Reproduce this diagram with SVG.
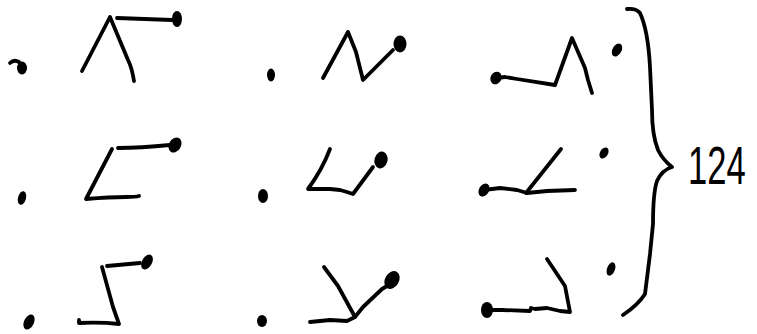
<svg xmlns="http://www.w3.org/2000/svg" width="757" height="334" viewBox="0 0 757 334">
<style>
.s{fill:none;stroke:#000;stroke-width:3.8;stroke-linecap:round;stroke-linejoin:round}
.d{fill:#000}
.t{font-family:"Liberation Sans",Arial,sans-serif;font-size:54px;fill:#000}
</style>
<rect width="757" height="334" fill="#fff"/>
<!-- row 1 -->
<g id="r1c1">
<path class="s" d="M10 63 Q14 59 19 62"/>
<ellipse class="d" cx="22" cy="68" rx="5" ry="6.5"/>
<path class="s" d="M82 71 L110 17 L128 60 Q132 68 134 81"/>
<path class="s" d="M117 18 L172 20"/>
<ellipse class="d" cx="177" cy="19" rx="5" ry="8"/>
</g>
<g id="r1c2">
<ellipse class="d" cx="271" cy="75" rx="4" ry="6.5"/>
<path class="s" d="M323 78 L348 32 L356 52 L363 80 L393 50"/>
<ellipse class="d" cx="400" cy="44" rx="6.5" ry="8.5"/>
</g>
<g id="r1c3">
<ellipse class="d" cx="496" cy="78" rx="5.5" ry="6.5" transform="rotate(25 496 78)"/>
<path class="s" d="M496 78 L505 77 L517 79 L555 85 L572 38 L585 68 L588 80 L592 93"/>
<ellipse class="d" cx="617" cy="50" rx="4.5" ry="7" transform="rotate(30 617 50)"/>
</g>
<!-- row 2 -->
<g id="r2c1">
<ellipse class="d" cx="22" cy="198" rx="4" ry="7" transform="rotate(15 22 198)"/>
<path class="s" d="M112 149 L86 199 Q110 197 126 197 Q136 197 139 196"/>
<path class="s" d="M118 148 Q140 148 170 145"/>
<ellipse class="d" cx="175" cy="145" rx="6" ry="8" transform="rotate(30 175 145)"/>
</g>
<g id="r2c2">
<ellipse class="d" cx="263" cy="196" rx="5" ry="7"/>
<path class="s" d="M330 149 Q322 170 308 189 L330 189 L340 190 L347 192 L353 194 L373 167"/>
<ellipse class="d" cx="381" cy="160" rx="6.5" ry="8.5" transform="rotate(15 381 160)"/>
</g>
<g id="r2c3">
<ellipse class="d" cx="484" cy="190" rx="5" ry="7" transform="rotate(30 484 190)"/>
<path class="s" d="M484 190 L500 188 L517 190 L527 193 L547 191 L575 190"/>
<path class="s" d="M526 193 L561 149"/>
<ellipse class="d" cx="604" cy="153" rx="4" ry="6" transform="rotate(30 604 153)"/>
</g>
<!-- row 3 -->
<g id="r3c1">
<ellipse class="d" cx="29" cy="322" rx="5" ry="8" transform="rotate(25 29 322)"/>
<path class="s" d="M79 320 L79 323 Q100 322 119 324 L113 307 L102 267"/>
<path class="s" d="M107 266 L140 263"/>
<ellipse class="d" cx="147" cy="262" rx="5" ry="8" transform="rotate(30 147 262)"/>
</g>
<g id="r3c2">
<ellipse class="d" cx="262" cy="321" rx="5" ry="6"/>
<path class="s" d="M324 267 L338 286 L355 317"/>
<path class="s" d="M310 322 L330 320 L347 321 L355 317 L363 307 L382 289 L387 286"/>
<ellipse class="d" cx="392" cy="280" rx="7" ry="9.5" transform="rotate(30 392 280)"/>
</g>
<g id="r3c3">
<ellipse class="d" cx="487" cy="310" rx="6" ry="8"/>
<path class="s" d="M487 310 L502 310 L530 311 L531 308 L535 309 L547 308 L560 311 L570 312 L565 286 L547 259"/>
<ellipse class="d" cx="611" cy="269" rx="4" ry="7" transform="rotate(20 611 269)"/>
</g>
<!-- brace -->
<g id="brace">
<path class="s" d="M627 9 Q636 8 640 13 Q648 30 650 67 L652 110 Q652 135 658 150 Q663 160 672 167 Q662 170 657 181 Q653 193 653 224 L650 254 L645 294 Q638 305 623 315"/>
</g>
<g id="label" transform="translate(688 184) scale(0.64 1)">
<text class="t" x="0" y="0">124</text>
</g>
</svg>
